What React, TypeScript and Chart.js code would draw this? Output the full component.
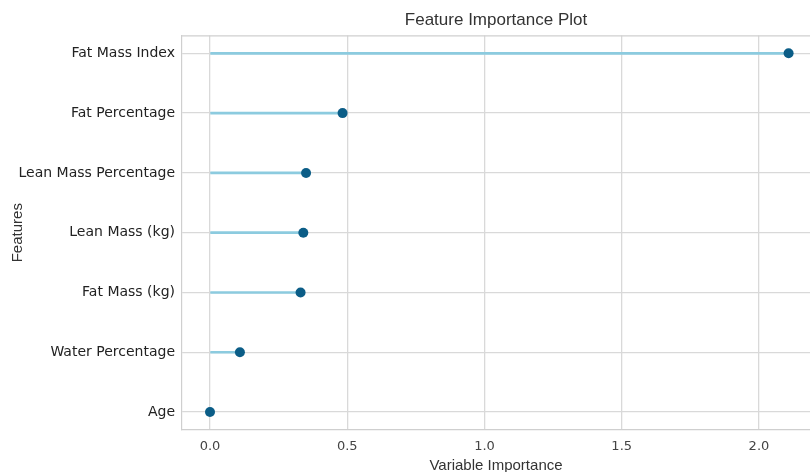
import React, { useEffect, useRef } from "react";
import { Chart, registerables } from "chart.js";

Chart.register(...registerables);

const features = [
  "Fat Mass Index",
  "Fat Percentage",
  "Lean Mass Percentage",
  "Lean Mass (kg)",
  "Fat Mass (kg)",
  "Water Percentage",
  "Age",
];
const importance = [2.108, 0.483, 0.35, 0.34, 0.33, 0.109, 0.0];
const xTicks = [0, 0.5, 1.0, 1.5, 2.0];

const STEM = "#8ccbdf";
const DOT = "#0b5d87";
const GRID = "#d9d9d9";

const frame = {
  id: "frame",
  afterDraw(chart: any) {
    const { ctx, chartArea } = chart;
    ctx.save();
    ctx.strokeStyle = "#cfcfcf";
    ctx.lineWidth = 1.2;
    ctx.beginPath();
    ctx.moveTo(chartArea.left, chartArea.top + 0.5);
    ctx.lineTo(chartArea.right, chartArea.top + 0.5);
    ctx.stroke();
    ctx.restore();
  },
};

export default function App() {
  const ref = useRef<HTMLCanvasElement | null>(null);
  useEffect(() => {
    if (!ref.current) return;
    const points = features.map((_, i) => ({ x: importance[i], y: i }));
    const chart = new Chart(ref.current, {
      type: "bar",
      data: {
        datasets: [
          {
            type: "bar",
            data: points,
            backgroundColor: STEM,
            borderWidth: 0,
            barThickness: 2,
            order: 2,
          } as any,
          {
            type: "scatter",
            data: points,
            backgroundColor: DOT,
            borderColor: DOT,
            pointRadius: 5,
            pointBorderWidth: 0,
            order: 1,
          } as any,
        ],
      },
      options: {
        animation: false,
        responsive: false,
        indexAxis: "y",
        layout: { autoPadding: false, padding: { left: 0, top: 0, bottom: 0, right: 0 } },
        plugins: {
          legend: { display: false },
          tooltip: { enabled: false },
          title: {
            display: true,
            text: "Feature Importance Plot",
            fullSize: false,
            color: "#333333",
            font: { family: "Liberation Sans", size: 17, weight: "normal" },
            padding: { top: 10, bottom: 5 },
          },
        },
        scales: {
          x: {
            type: "linear",
            min: -0.102,
            max: 2.186,
            offset: false,
            afterBuildTicks: (s: any) => {
              s.ticks = xTicks.map((v) => ({ value: v }));
            },
            afterFit: (s: any) => {
              s.height = 42;
              s.paddingRight = 0;
              s.paddingLeft = 0;
            },
            ticks: {
              includeBounds: false,
              padding: 9,
              color: "#444444",
              font: { family: "DejaVu Sans", size: 13 },
              callback: (v: any) => Number(v).toFixed(1),
            },
            grid: { color: GRID, lineWidth: 1.3, drawTicks: false, offset: false },
            border: { display: true, color: "#cfcfcf", width: 1.2 },
            title: {
              display: true,
              text: "Variable Importance",
              color: "#333333",
              font: { family: "Liberation Sans", size: 15 },
              padding: { top: 0, bottom: -3 },
            },
          },
          y: {
            type: "linear",
            min: -0.3,
            max: 6.3,
            reverse: true,
            offset: false,
            afterBuildTicks: (s: any) => {
              s.ticks = features.map((_, i) => ({ value: i }));
            },
            afterFit: (s: any) => {
              s.width = 182;
              s.paddingTop = 0;
              s.paddingBottom = 0;
            },
            ticks: {
              includeBounds: false,
              padding: 7,
              color: "#222222",
              font: { family: "DejaVu Sans", size: 14 },
              callback: (v: any) => features[Number(v)] ?? "",
            },
            grid: { color: GRID, lineWidth: 1.3, drawTicks: false, offset: false },
            border: { display: true, color: "#cfcfcf", width: 1.2 },
            title: {
              display: true,
              text: "Features",
              color: "#333333",
              font: { family: "Liberation Sans", size: 15 },
              padding: { top: 9, bottom: 0 },
            },
          },
        },
      } as any,
      plugins: [frame],
    });
    return () => chart.destroy();
  }, []);
  return (
    <div style={{ position: "fixed", left: 0, top: 0, width: 810, height: 472, background: "#fff" }}>
      <canvas ref={ref} width={810} height={472} />
    </div>
  );
}
